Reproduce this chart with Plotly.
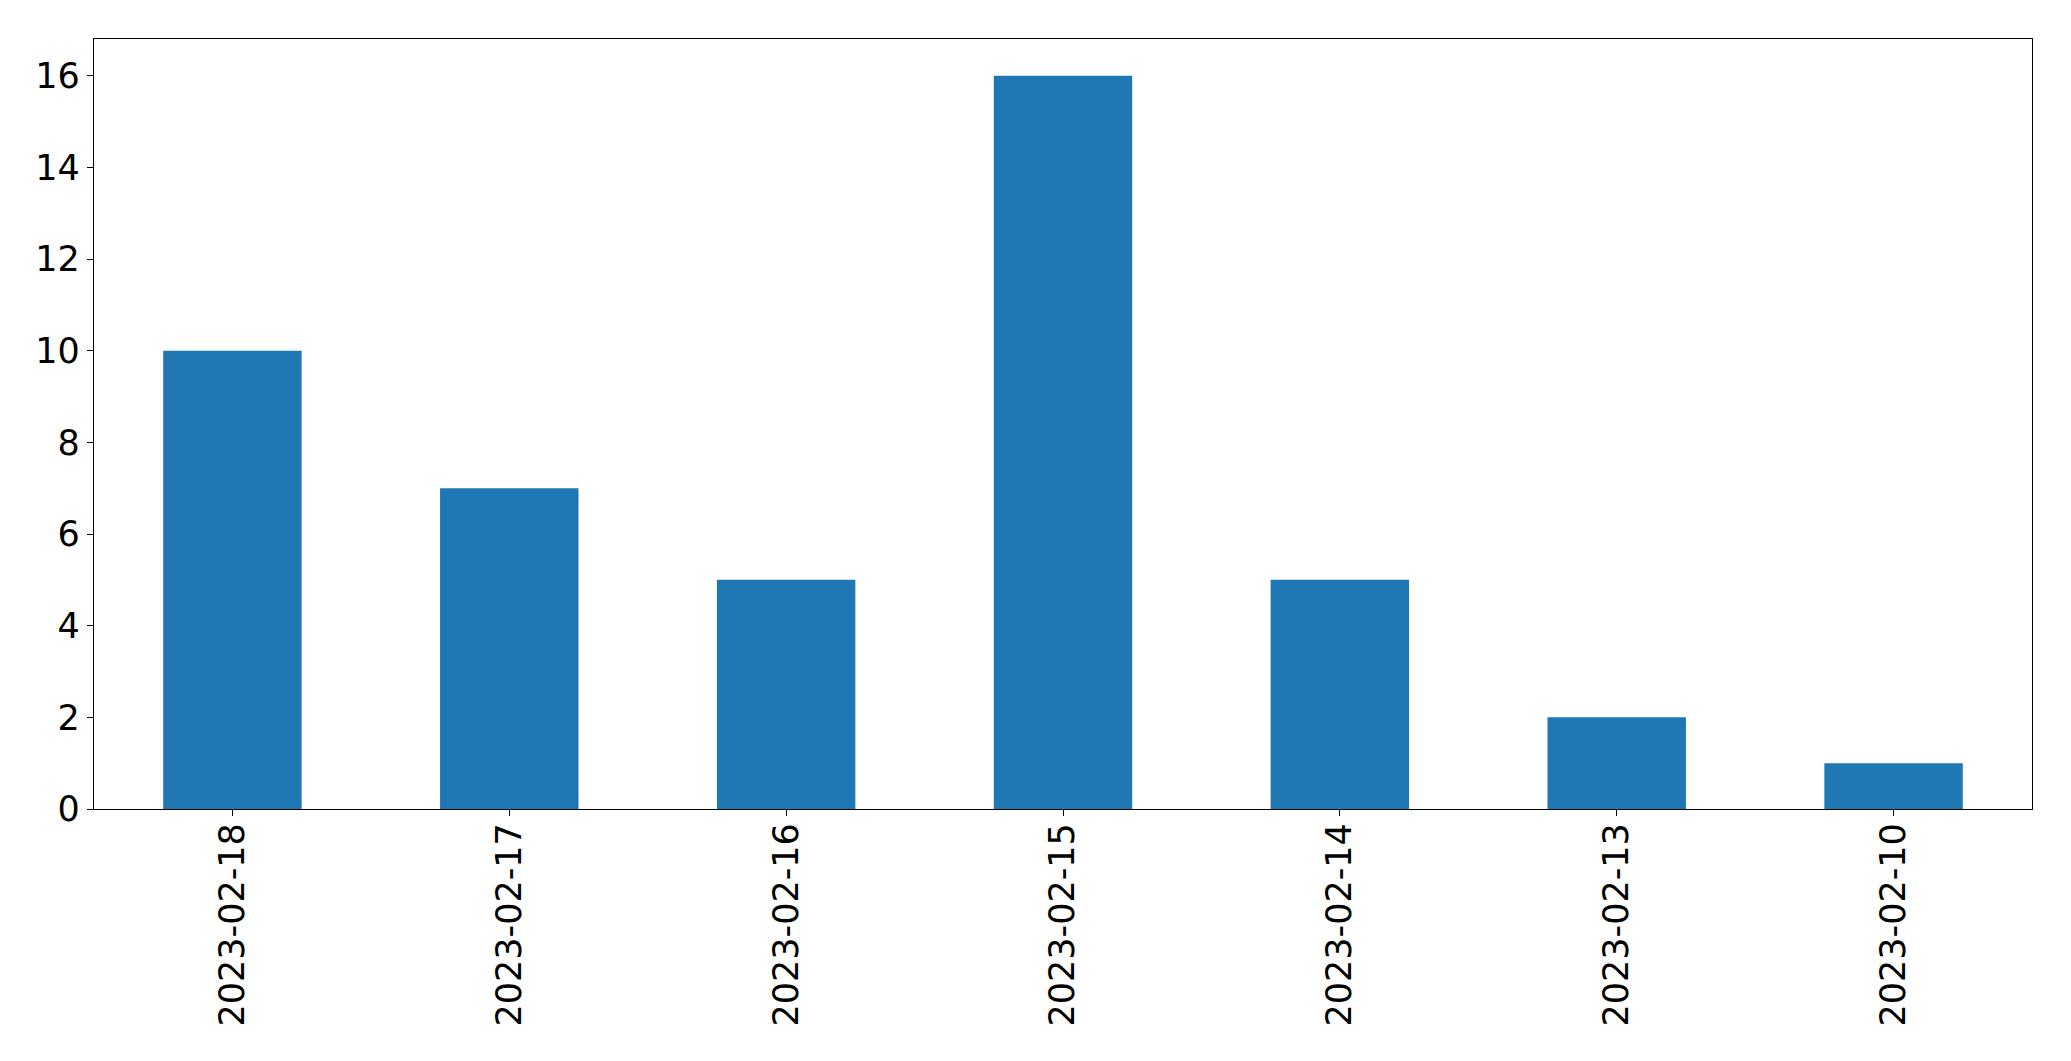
import plotly.graph_objects as go

dates = ["2023-02-18", "2023-02-17", "2023-02-16", "2023-02-15", "2023-02-14", "2023-02-13", "2023-02-10"]
counts = [10, 7, 5, 16, 5, 2, 1]
y_ticks = [0, 2, 4, 6, 8, 10, 12, 14, 16]

fig = go.Figure(go.Bar(x=dates, y=counts, width=0.5, marker=dict(color="#1f77b4", line=dict(width=0))))

axis_common = dict(
    showline=True, linecolor="black", linewidth=1.3, mirror=True,
    ticks="outside", ticklen=6, tickwidth=1.3, tickcolor="black",
    showgrid=False, zeroline=False,
    tickfont=dict(family="DejaVu Sans", size=35, color="black"),
)

fig.update_layout(
    width=2071, height=1061,
    margin=dict(l=94, r=39, t=39, b=252, pad=0),
    paper_bgcolor="white", plot_bgcolor="white",
    showlegend=False,
    xaxis=dict(type="category", range=[-0.5, 6.5], tickangle=-90, automargin=False,
               ticklabelstandoff=-7, **axis_common),
    yaxis=dict(range=[0, 16.8], tickvals=y_ticks, automargin=False, **axis_common),
)

fig.write_html(
    "out.html",
    config={"displayModeBar": False},
    post_script="document.body.style.margin='0';document.body.style.overflow='hidden';",
)
